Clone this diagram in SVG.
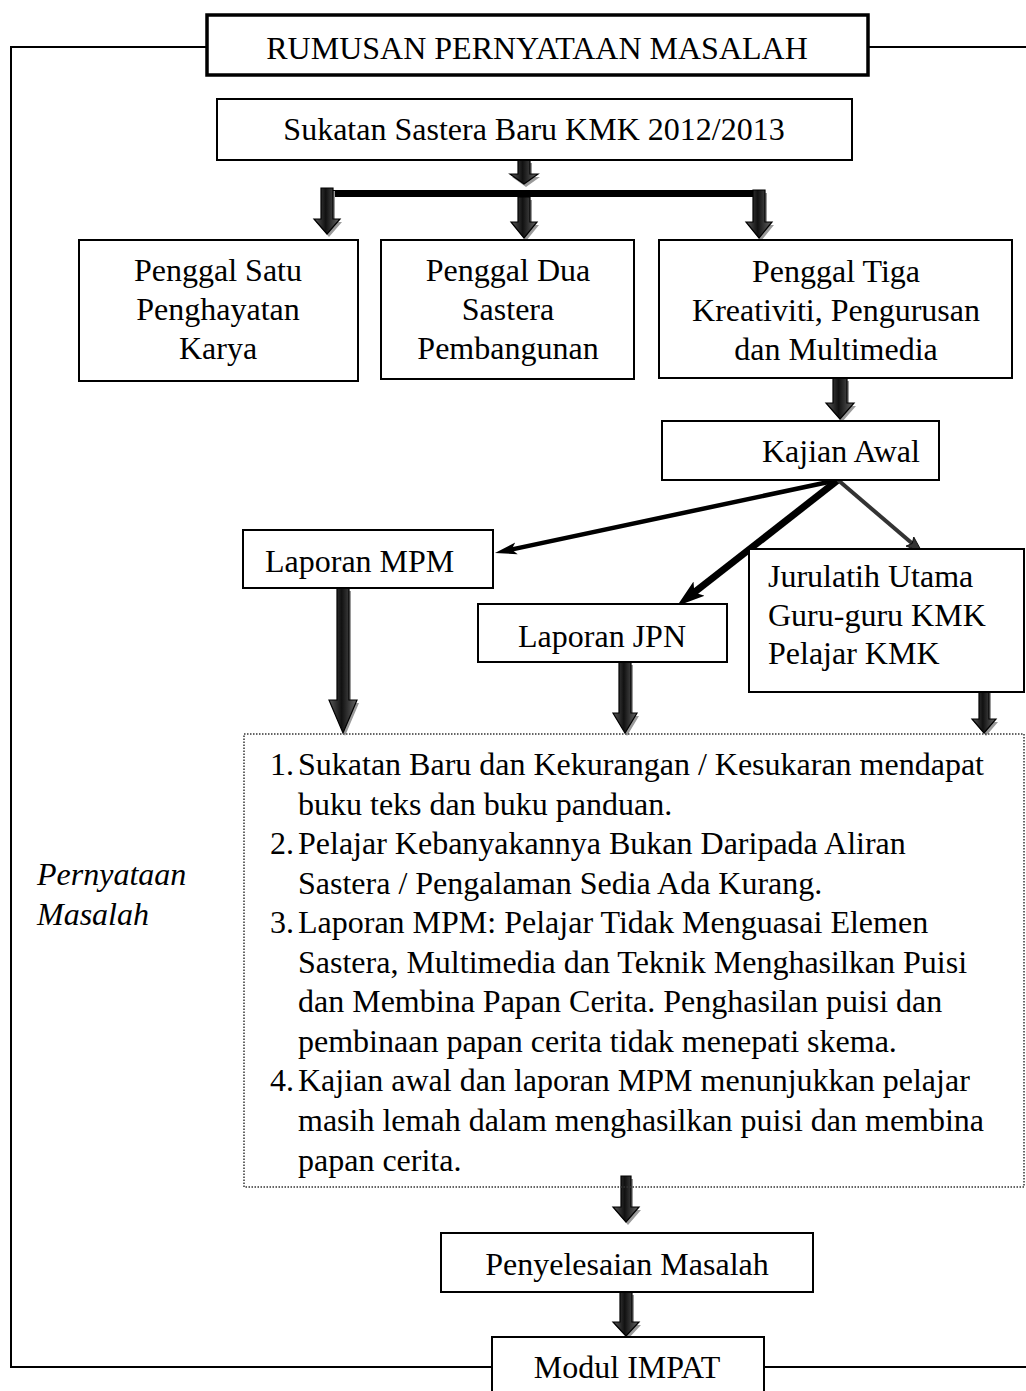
<svg xmlns="http://www.w3.org/2000/svg" width="1026" height="1391" viewBox="0 0 1026 1391">
<style>
text{font-family:"Liberation Serif","Times New Roman",serif;font-size:32px;fill:#000}
.c{text-anchor:middle}
.it{font-style:italic}
.box{fill:#fff;stroke:#000;stroke-width:2}
.title{fill:#fff;stroke:#000;stroke-width:3.5}
.frame{fill:none;stroke:#000;stroke-width:2}
.dot{fill:none;stroke:#333;stroke-width:1.5;stroke-dasharray:1.5 1.5}
.sh{fill:#9a9a9a}
.ar{fill:url(#g);stroke:#000;stroke-width:1.2}
</style>
<defs>
<linearGradient id="g" x1="0" y1="0" x2="1" y2="0">
<stop offset="0" stop-color="#5a5a5a"/>
<stop offset="0.45" stop-color="#111"/>
<stop offset="1" stop-color="#666"/>
</linearGradient>
<marker id="mh1" markerUnits="userSpaceOnUse" markerWidth="24" markerHeight="14" viewBox="0 0 24 14" refX="10" refY="7" orient="auto"><path d="M0,1 L22,7 L0,13 L5,7 Z" fill="#000"/></marker>
<marker id="mh2" markerUnits="userSpaceOnUse" markerWidth="30" markerHeight="20" viewBox="0 0 30 20" refX="12" refY="10" orient="auto"><path d="M0,1 L28,10 L0,19 L6,10 Z" fill="#000"/></marker>
<marker id="mh3" markerUnits="userSpaceOnUse" markerWidth="18" markerHeight="14" viewBox="0 0 18 14" refX="7" refY="7" orient="auto"><path d="M0,1 L16,7 L0,13 L3,7 Z" fill="#333" stroke="#000" stroke-width="0.8"/></marker>
<path id="a0" d="M518,160 L530,160 L530,174 L538,174 L524,184 L510,174 L518,174 Z"/>
<path id="a1" d="M321,188 L333,188 L333,219 L340,219 L327,234 L314,219 L321,219 Z"/>
<path id="a2" d="M518,197 L530,197 L530,222 L537,222 L524,238 L511,222 L518,222 Z"/>
<path id="a3" d="M753,190 L765,190 L765,222 L772,222 L759,238 L746,222 L753,222 Z"/>
<path id="a4" d="M833,378 L847,378 L847,403 L854,403 L840,419 L826,403 L833,403 Z"/>
<path id="a5" d="M337,588 L349,588 L349,700 L357,700 L343,733 L329,700 L337,700 Z"/>
<path id="a6" d="M619,662 L631,662 L631,713 L637,713 L625,733 L613,713 L619,713 Z"/>
<path id="a7" d="M979,690 L989,690 L989,719 L996,719 L984,733 L972,719 L979,719 Z"/>
<path id="a8" d="M621,1176 L631,1176 L631,1207 L639,1207 L626,1222 L613,1207 L621,1207 Z"/>
<path id="a9" d="M620,1292 L632,1292 L632,1322 L639,1322 L626,1336 L613,1322 L620,1322 Z"/>
</defs>

<g id="frame">
<polyline class="frame" points="207,47 11,47 11,1367 492,1367"/>
<line class="frame" x1="868" y1="47" x2="1026" y2="47"/>
<line class="frame" x1="764" y1="1367" x2="1026" y2="1367"/>
</g>

<g id="connectors">
<rect x="327" y="190" width="436" height="7" fill="#000"/>
<line x1="838" y1="480" x2="506.7" y2="550.5" stroke="#000" stroke-width="4.5" marker-end="url(#mh1)"/>
<line x1="838" y1="480" x2="689.6" y2="596.1" stroke="#000" stroke-width="7" marker-end="url(#mh2)"/>
<line x1="838" y1="480" x2="915.2" y2="546.1" stroke="#333" stroke-width="4" marker-end="url(#mh3)"/>
<g transform="translate(2,3)" class="sh">
<use href="#a0"/><use href="#a1"/><use href="#a2"/><use href="#a3"/><use href="#a4"/><use href="#a5"/><use href="#a6"/><use href="#a7"/><use href="#a8"/><use href="#a9"/>
</g>
<g class="ar">
<use href="#a0"/><use href="#a1"/><use href="#a2"/><use href="#a3"/><use href="#a4"/><use href="#a5"/><use href="#a6"/><use href="#a7"/><use href="#a8"/><use href="#a9"/>
</g>
</g>

<g id="n-title">
<rect class="title" x="207" y="15" width="661" height="60"/>
<text class="c" x="537" y="59">RUMUSAN PERNYATAAN MASALAH</text>
</g>
<g id="n-sukatan">
<rect class="box" x="217" y="99" width="635" height="61"/>
<text class="c" x="534" y="140">Sukatan Sastera Baru KMK 2012/2013</text>
</g>
<g id="n-penggal1">
<rect class="box" x="79" y="240" width="279" height="141"/>
<text class="c" x="218" y="281">Penggal Satu</text>
<text class="c" x="218" y="320">Penghayatan</text>
<text class="c" x="218" y="359">Karya</text>
</g>
<g id="n-penggal2">
<rect class="box" x="381" y="240" width="253" height="139"/>
<text class="c" x="508" y="281">Penggal Dua</text>
<text class="c" x="508" y="320">Sastera</text>
<text class="c" x="508" y="359">Pembangunan</text>
</g>
<g id="n-penggal3">
<rect class="box" x="659" y="240" width="353" height="138"/>
<text class="c" x="836" y="282">Penggal Tiga</text>
<text class="c" x="836" y="321">Kreativiti, Pengurusan</text>
<text class="c" x="836" y="360">dan Multimedia</text>
</g>
<g id="n-kajian">
<rect class="box" x="662" y="421" width="277" height="59"/>
<text x="762" y="462">Kajian Awal</text>
</g>
<g id="n-mpm">
<rect class="box" x="243" y="530" width="250" height="58"/>
<text x="265" y="572">Laporan MPM</text>
</g>
<g id="n-jpn">
<rect class="box" x="478" y="604" width="249" height="58"/>
<text class="c" x="602" y="647">Laporan JPN</text>
</g>
<g id="n-jurulatih">
<rect class="box" x="749" y="549" width="275" height="143"/>
<text x="768" y="587">Jurulatih Utama</text>
<text x="768" y="626">Guru-guru KMK</text>
<text x="768" y="664">Pelajar KMK</text>
</g>
<g id="n-masalah">
<rect class="dot" x="244" y="734" width="780" height="453"/>
<text x="270" y="775">1.</text><text x="298" y="775">Sukatan Baru dan Kekurangan / Kesukaran mendapat</text>
<text x="298" y="814.5">buku teks dan buku panduan.</text>
<text x="270" y="854">2.</text><text x="298" y="854">Pelajar Kebanyakannya Bukan Daripada Aliran</text>
<text x="298" y="893.5">Sastera / Pengalaman Sedia Ada Kurang.</text>
<text x="270" y="933">3.</text><text x="298" y="933">Laporan MPM: Pelajar Tidak Menguasai Elemen</text>
<text x="298" y="972.5">Sastera, Multimedia dan Teknik Menghasilkan Puisi</text>
<text x="298" y="1012">dan Membina Papan Cerita. Penghasilan puisi dan</text>
<text x="298" y="1051.5">pembinaan papan cerita tidak menepati skema.</text>
<text x="270" y="1091">4.</text><text x="298" y="1091">Kajian awal dan laporan MPM menunjukkan pelajar</text>
<text x="298" y="1131">masih lemah dalam menghasilkan puisi dan membina</text>
<text x="298" y="1171">papan cerita.</text>
</g>
<g id="n-label">
<text class="it" x="37" y="885">Pernyataan</text>
<text class="it" x="37" y="925">Masalah</text>
</g>
<g id="n-penyelesaian">
<rect class="box" x="441" y="1233" width="372" height="59"/>
<text class="c" x="627" y="1275">Penyelesaian Masalah</text>
</g>
<g id="n-modul">
<rect class="box" x="492" y="1337" width="272" height="70"/>
<text class="c" x="627" y="1378">Modul IMPAT</text>
</g>
</svg>
